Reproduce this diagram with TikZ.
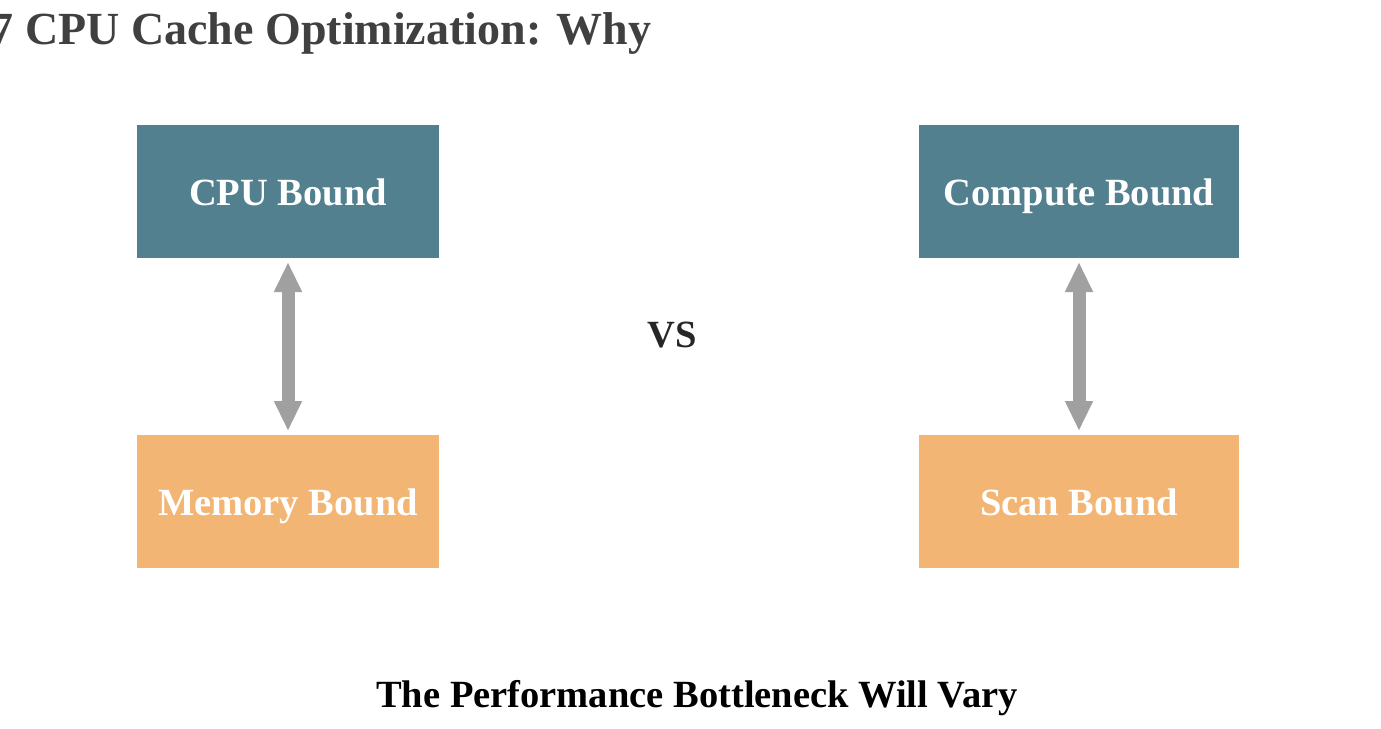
\documentclass[tikz,border=0pt]{standalone}
\usepackage{fontspec}
\setmainfont{Liberation Serif}
\usetikzlibrary{arrows.meta}
\definecolor{teal}{HTML}{52808F}
\definecolor{peach}{HTML}{F2B574}
\definecolor{arrowgray}{HTML}{A0A0A0}
\definecolor{titlegray}{HTML}{404040}
\tikzset{
  boxbase/.style={minimum height=133pt, inner sep=0pt, outer sep=0pt, text=white,
    text height=28pt, text depth=0pt, font=\fontsize{38.5}{40}\selectfont\bfseries},
  topbox/.style={boxbase, fill=teal},
  botbox/.style={boxbase, fill=peach},
  biarrow/.style={draw=arrowgray, line width=13pt, shorten <=4pt, shorten >=4pt,
    {Triangle[length=30pt,width=26pt]}-{Triangle[length=30pt,width=26pt]}},
  plaintext/.style={anchor=base, inner sep=0pt, font=\fontsize{38.5}{40}\selectfont\bfseries},
}
\begin{document}
\begin{tikzpicture}[x=1pt,y=-1pt]
\useasboundingbox[fill=white] (0,0) rectangle (1381,728);
\node[anchor=base west, text=titlegray, font=\fontsize{46}{48}\selectfont\bfseries, inner sep=0pt] (title) at (-9.5,44) {7 CPU Cache Optimization: Why};
\node[topbox, minimum width=302pt] (cpu) at (288,191.5) {CPU Bound};
\node[botbox, minimum width=302pt] (mem) at (288,501.5) {Memory Bound};
\node[topbox, minimum width=320pt] (comp) at (1079,191.5) {Compute Bound};
\node[botbox, minimum width=320pt] (scan) at (1079,501.5) {Scan Bound};
\draw[biarrow] (cpu) -- (mem);
\draw[biarrow] (comp) -- (scan);
\node[plaintext, text=black!85] (vs) at (672,347) {VS};
\node[plaintext, text=black] (bottom) at (697,707) {The Performance Bottleneck Will Vary};
\end{tikzpicture}
\end{document}
